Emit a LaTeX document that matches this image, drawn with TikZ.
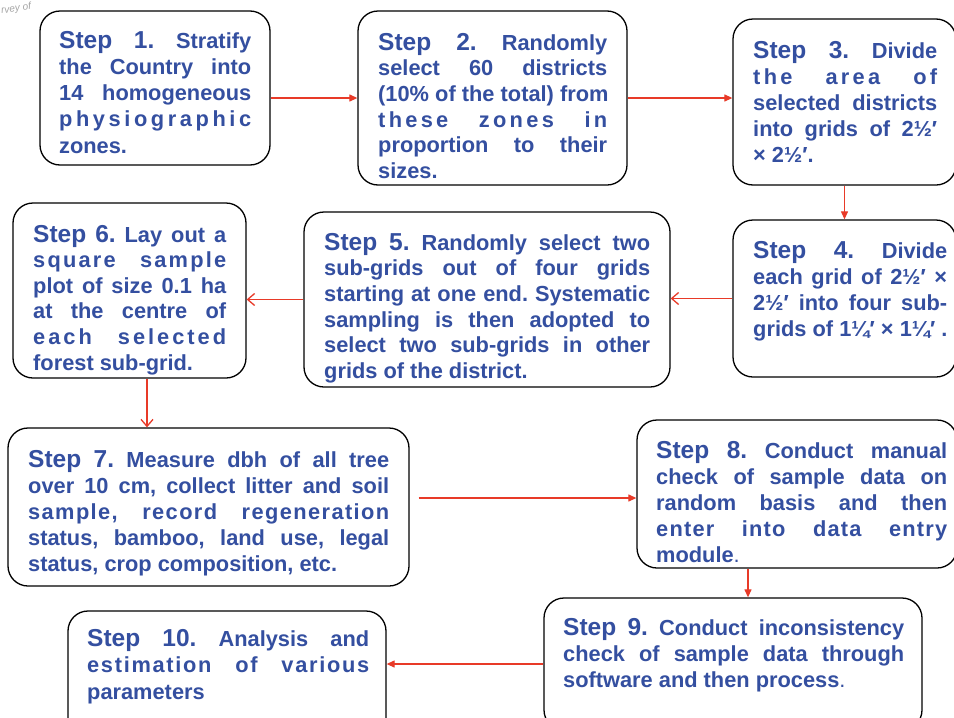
\documentclass[tikz,border=0pt]{standalone}
\usepackage{fontspec}
\setmainfont{Liberation Sans}
\usetikzlibrary{arrows.meta,calc}

\definecolor{stepblue}{RGB}{52,79,160}
\definecolor{flowred}{RGB}{232,58,40}

% text helpers: body font, larger "Step N." lead-in, glue between words
\newcommand\bodyfont{\fontsize{21.8}{26}\selectfont\bfseries\lineskiplimit=-50pt\relax}
\newcommand\st[1]{{\fontsize{24.5}{26}\selectfont #1}}
\newcommand\wordgap{\hskip 0.28em plus 1fil\relax}
\newcommand\spreadgap{\hskip 0.28em plus 1fill\relax}
\newcommand\lastl[1]{\hbox to \hsize{#1\hfil}}

\ExplSyntaxOn
\seq_new:N \l__fl_words_seq
\seq_new:N \l__fl_out_seq
\tl_new:N \l__fl_word_tl
% justified line: the gaps between words stretch to fill the line
\NewDocumentCommand \jl { m }
  {
    \seq_set_split:Nnn \l__fl_words_seq { ~ } { #1 }
    \hbox to \hsize { \seq_use:Nn \l__fl_words_seq { \wordgap } }
  }
% justified line with extra space between the letters
\NewDocumentCommand \js { O{3pt} m }
  {
    \seq_set_split:Nnn \l__fl_words_seq { ~ } { #2 }
    \seq_clear:N \l__fl_out_seq
    \seq_map_inline:Nn \l__fl_words_seq
      {
        \tl_clear:N \l__fl_word_tl
        \tl_map_inline:nn { ##1 }
          {
            \tl_if_empty:NF \l__fl_word_tl
              { \tl_put_right:Nn \l__fl_word_tl { \hskip #1 plus 1fil \relax } }
            \tl_put_right:Nn \l__fl_word_tl { ####1 }
          }
        \seq_put_right:NV \l__fl_out_seq \l__fl_word_tl
      }
    \hbox to \hsize { \seq_use:Nn \l__fl_out_seq { \spreadgap } }
  }
\ExplSyntaxOff

\tikzset{
  stepbox/.style={draw=black, line width=1.3pt, rounded corners=20pt,
    inner sep=0pt, fill=white},
  txt/.style={inner sep=0pt, anchor=base west, text=stepblue,
    font=\bodyfont},
  link/.style={draw=flowred, line width=1.2pt},
  headfill/.style={link, -{Triangle[length=8pt,width=7pt]}},
  headbarb/.style={link, -{Straight Barb[length=7pt,width=12pt,line width=1.3pt]}},
}

\begin{document}
\begin{tikzpicture}[x=1pt,y=-1pt]
\clip (0,0) rectangle (954,718);
\fill[white] (0,0) rectangle (954,718);

% faint remnant of a heading in the corner
\node[anchor=west, inner sep=0pt, text=black!35, rotate=8,
  font=\fontsize{10}{10}\selectfont\itshape] (logo) at (1,11) {rvey of};

% boxes
\node[stepbox, minimum width=230pt, minimum height=154pt] (b1) at (155,88) {};
\node[stepbox, minimum width=269pt, minimum height=174pt] (b2) at (492.5,98) {};
\node[stepbox, minimum width=223pt, minimum height=166pt] (b3) at (844.5,102) {};
\node[stepbox, minimum width=223pt, minimum height=157pt] (b4) at (844.5,298.5) {};
\node[stepbox, minimum width=366pt, minimum height=175pt] (b5) at (487,299.5) {};
\node[stepbox, minimum width=233pt, minimum height=175pt] (b6) at (129.5,290.5) {};
\node[stepbox, minimum width=401pt, minimum height=158pt] (b7) at (208.5,507) {};
\node[stepbox, minimum width=320pt, minimum height=148pt] (b8) at (797,494) {};
\node[stepbox, minimum width=378pt, minimum height=132pt] (b9) at (733,664) {};
\node[stepbox, minimum width=318pt, minimum height=129pt] (b10) at (227,675.5) {};

% texts
\node[txt] (t1) at (59,48) {\vtop{\hsize=192pt\baselineskip=26.3pt
  \jl{\st{Step} \st{1.} Stratify}
  \jl{the Country into}
  \jl{14 homogeneous}
  \js[2.8pt]{physiographic}
  \lastl{zones.}}};

\node[txt] (t2) at (378,50) {\vtop{\hsize=229pt\baselineskip=25.7pt
  \jl{\st{Step} \st{2.} Randomly}
  \jl{select 60 districts}
  \jl{(10\% of the total) from}
  \js[3.3pt]{these zones in}
  \jl{proportion to their}
  \lastl{sizes.}}};

\node[txt] (t3) at (753,58) {\vtop{\hsize=184pt\baselineskip=26.2pt
  \jl{\st{Step} \st{3.} Divide}
  \js[3.3pt]{the area of}
  \jl{selected districts}
  \jl{into grids of 2½′}
  \lastl{× 2½′.}}};

\node[txt] (t4) at (753,258) {\vtop{\hsize=194pt\baselineskip=26pt
  \jl{\st{Step} \st{4.} Divide}
  \jl{each grid of 2½′ ×}
  \jl{2½′ into four sub-}
  \jl{grids of 1¼′ × 1¼′ .}}};

\node[txt] (t5) at (324,250) {\vtop{\hsize=326pt\baselineskip=25.7pt
  \jl{\st{Step} \st{5.} Randomly select two}
  \jl{sub-grids out of four grids}
  \jl{starting at one end. Systematic}
  \jl{sampling is then adopted to}
  \jl{select two sub-grids in other}
  \lastl{grids of the district.}}};

\node[txt] (t6) at (33,242) {\vtop{\hsize=193pt\baselineskip=25.6pt
  \jl{\st{Step} \st{6.} Lay out a}
  \js[2.2pt]{square sample}
  \jl{plot of size 0.1 ha}
  \jl{at the centre of}
  \js[3pt]{each selected}
  \lastl{forest sub-grid.}}};

\node[txt] (t7) at (28,467) {\vtop{\hsize=361pt\baselineskip=26.2pt
  \jl{\st{Step} \st{7.} Measure dbh of all tree}
  \jl{over 10 cm, collect litter and soil}
  \js[1.4pt]{sample, record regeneration}
  \jl{status, bamboo, land use, legal}
  \lastl{status, crop composition, etc.}}};

\node[txt] (t8) at (656,458) {\vtop{\hsize=291pt\baselineskip=26pt
  \jl{\st{Step} \st{8.} Conduct manual}
  \jl{check of sample data on}
  \jl{random basis and then}
  \js[1.2pt]{enter into data entry}
  \lastl{module{\mdseries.}}}};

\node[txt] (t9) at (563,635) {\vtop{\hsize=341pt\baselineskip=26pt
  \jl{\st{Step} \st{9.} Conduct inconsistency}
  \jl{check of sample data through}
  \lastl{software and then process{\mdseries.}}}};

\node[txt] (t10) at (87,646) {\vtop{\hsize=282pt\baselineskip=26.5pt
  \jl{\st{Step} \st{10.} Analysis and}
  \js[1.7pt]{estimation of various}
  \lastl{parameters}}};

% connectors
\draw[headfill] (b1.east |- b2.west) -- (b2.west);
\draw[headfill] (b2.east) -- (b2.east -| b3.west);
\draw[headfill] (b3.south) -- (b4.north);
\draw[headbarb] (b4.west) -- (b4.west -| b5.east);
\draw[headbarb] (b5.west) -- (b5.west -| b6.east);
\draw[headbarb] ([xshift=17.5pt]b6.south) -- ([xshift=17.5pt]b6.south |- b7.north);
\draw[headfill] ($(b7.east |- b8.west)+(9,4)$) -- ([yshift=-4pt]b8.west);
\coordinate (t9in) at ($(b9.north)+(15,0)$);
\draw[headfill] (t9in |- b8.south) -- (t9in);
\draw[headfill] (b9.west) -- (b9.west -| b10.east);
\end{tikzpicture}
\end{document}
